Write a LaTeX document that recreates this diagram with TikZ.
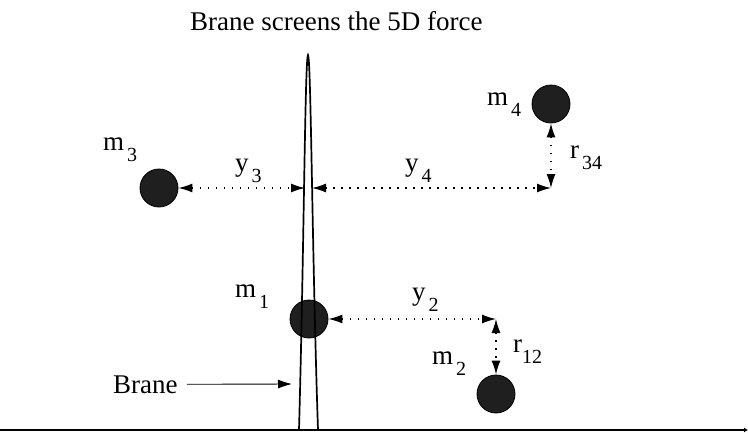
\documentclass[tikz,border=0pt]{standalone}
\usepackage{fontspec}
\setmainfont{Liberation Serif}
\usetikzlibrary{arrows.meta,positioning,calc}

\newcommand{\msub}[2]{#1\hspace{3pt}\raisebox{-11pt}{\fontsize{20}{21}\selectfont #2}}
\newcommand{\tsub}[2]{#1\raisebox{-11pt}{\fontsize{20}{21}\selectfont #2}}

\begin{document}
\begin{tikzpicture}[x=1pt,y=-1pt,>={Latex[length=14pt,width=9pt]}]
  \tikzset{
    ball/.style={circle, draw=black, fill=black!88, line width=0.8pt,
      minimum size=38pt, inner sep=0pt},
    gap/.style={<->, line width=1.3pt, dash pattern=on 1.3pt off 6.7pt},
    lbl/.style={font=\fontsize{27}{30}\selectfont, anchor=base west, inner sep=0pt},
  }
\useasboundingbox (0,0) rectangle (748,432);

% title
\node[lbl] (title) at (190,30) {Brane screens the 5D force};

% masses
\node[ball] (m1) at (309,319) {};
\node[ball] (m2) at (496,394) {};
\node[ball] (m3) at (159,188) {};
\node[ball] (m4) at (551,104) {};

% the brane
\draw[line width=1.7pt] (299,430) .. controls (304,250) and (305,58) .. (308,55)
  .. controls (311,58) and (312,250) .. (318,430);

% corners and brane hits
\coordinate (b3) at (305,188);
\coordinate (b4) at (312,188);
\coordinate (c12) at (496,319);
\coordinate (c34) at (551,188);

\draw[gap] (m3.east) -- (b3);
\draw[gap] (b4) -- (c34);
\draw[gap] (m4.south) -- (c34);
\draw[gap] (m1.east) -- (c12);
\draw[gap] (c12) -- (m2.north);

% labels
\node[lbl] (lm3) at (103,150) {\msub{m}{3}};
\node[lbl] (ly3) at (235,171) {\msub{y}{3}};
\node[lbl] (ly4) at (405,171) {\msub{y}{4}};
\node[lbl] (lm4) at (487,105) {\msub{m}{4}};
\node[lbl] (lr34) at (570,158) {\msub{r}{34}};
\node[lbl] (lm1) at (235,297) {\msub{m}{1}};
\node[lbl] (ly2) at (412,300) {\msub{y}{2}};
\node[lbl] (lm2) at (432,364) {\msub{m}{2}};
\node[lbl] (lr12) at (513,352) {\tsub{r}{12}};

% brane pointer
\node[lbl] (blbl) at (113,393) {Brane};
\coordinate (bt) at (292,384);
\draw[->, line width=0.9pt] ([xshift=9pt]blbl.east) -- (bt);

% axis
\coordinate (ax0) at (0,430);
\coordinate (ax1) at (748,430);
\draw[line width=2.5pt, -{Latex[length=4pt,width=5pt]}] (ax0) -- (ax1);
\end{tikzpicture}
\end{document}
